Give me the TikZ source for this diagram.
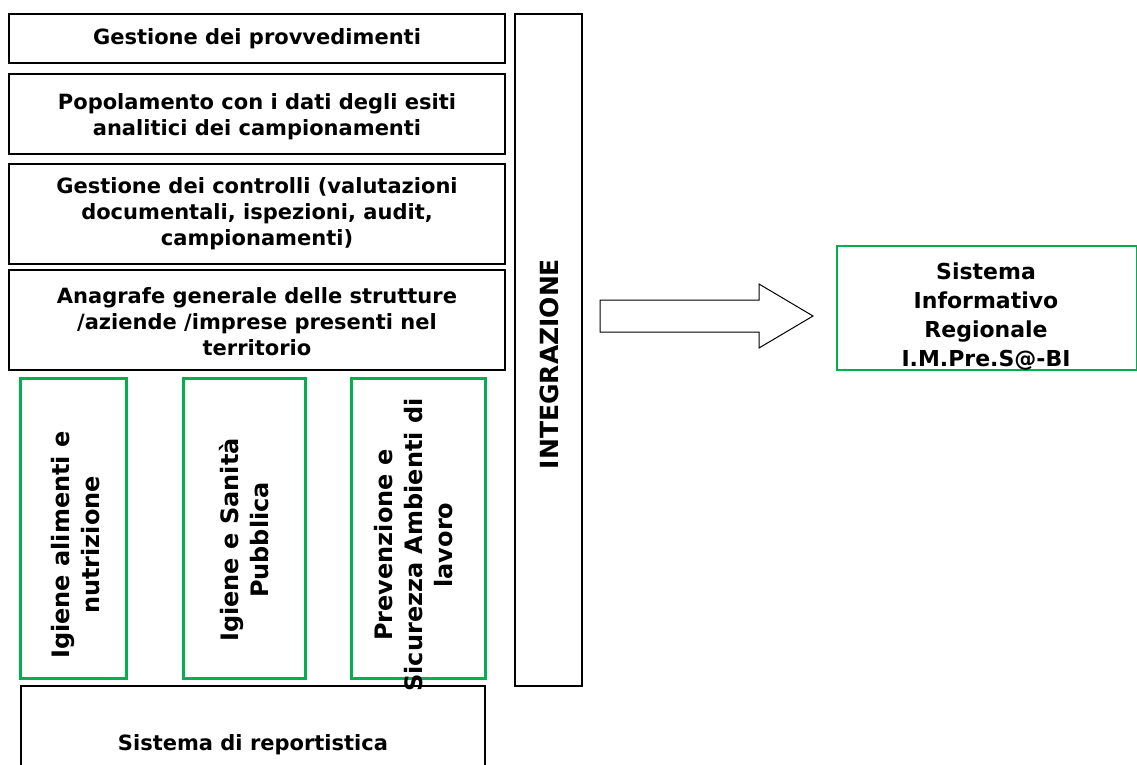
\documentclass[tikz,border=0pt]{standalone}
\usepackage{fontspec}
\setmainfont{DejaVu Sans}
\definecolor{wgreen}{RGB}{0,176,80}
\begin{document}
\begin{tikzpicture}[x=1pt,y=-1pt,
  blackbox/.style={draw=black,line width=1.5pt},
  greenbox/.style={draw=wgreen,line width=3pt},
  lbl/.style={font=\fontsize{21}{26}\selectfont\bfseries,align=center,inner sep=0pt},
  vlbl/.style={font=\fontsize{24}{30}\selectfont\bfseries,align=center,inner sep=0pt,rotate=90}]
\useasboundingbox (0,0) rectangle (1137,764);
\clip (0,0) rectangle (1137,764);
% stacked boxes
\draw[blackbox] (9,14) rectangle (505,63);
\node[lbl] (b1) at (257,39) {Gestione dei provvedimenti};
\draw[blackbox] (9,74) rectangle (505,154);
\node[lbl] (b2) at (257,117) {Popolamento con i dati degli esiti\\analitici dei campionamenti};
\draw[blackbox] (9,164) rectangle (505,264);
\node[lbl] (b3) at (257,214) {Gestione dei controlli (valutazioni\\documentali, ispezioni, audit,\\campionamenti)};
\draw[blackbox] (9,270) rectangle (505,370);
\node[lbl] (b4) at (257,322) {Anagrafe generale delle strutture\\/aziende /imprese presenti nel\\territorio};
% green vertical boxes
\draw[greenbox] (20,378) rectangle (126,678);
\node[vlbl] (g1) at (76,545) {Igiene alimenti e\\nutrizione};
\draw[greenbox] (183,378) rectangle (305,678);
\node[vlbl] (g2) at (244,540) {Igiene e Sanità\\Pubblica};
\draw[greenbox] (351,378) rectangle (485,678);
\node[vlbl] (g3) at (414,545) {Prevenzione e\\Sicurezza Ambienti di\\lavoro};
% report box
\draw[blackbox] (21,686) rectangle (485,800);
\node[lbl] (rep) at (253,745) {Sistema di reportistica};
% integration
\draw[blackbox] (515,14) rectangle (582,686);
\node[font=\fontsize{25}{30}\selectfont\bfseries,inner sep=0pt,rotate=90] (integ) at (549,364) {INTEGRAZIONE};
% block arrow
\draw[line width=1pt] (600,300) -- (759,300) -- (759,284) -- (813,316) -- (759,348) -- (759,332) -- (600,332) -- cycle;
% right box
\draw[draw=wgreen,line width=2pt] (837,246) rectangle (1137,370);
\node[font=\fontsize{22}{29}\selectfont\bfseries,align=center,inner sep=0pt] (sir) at (986,317) {Sistema\\Informativo\\Regionale\\I.M.Pre.S@-BI};
\end{tikzpicture}
\end{document}
